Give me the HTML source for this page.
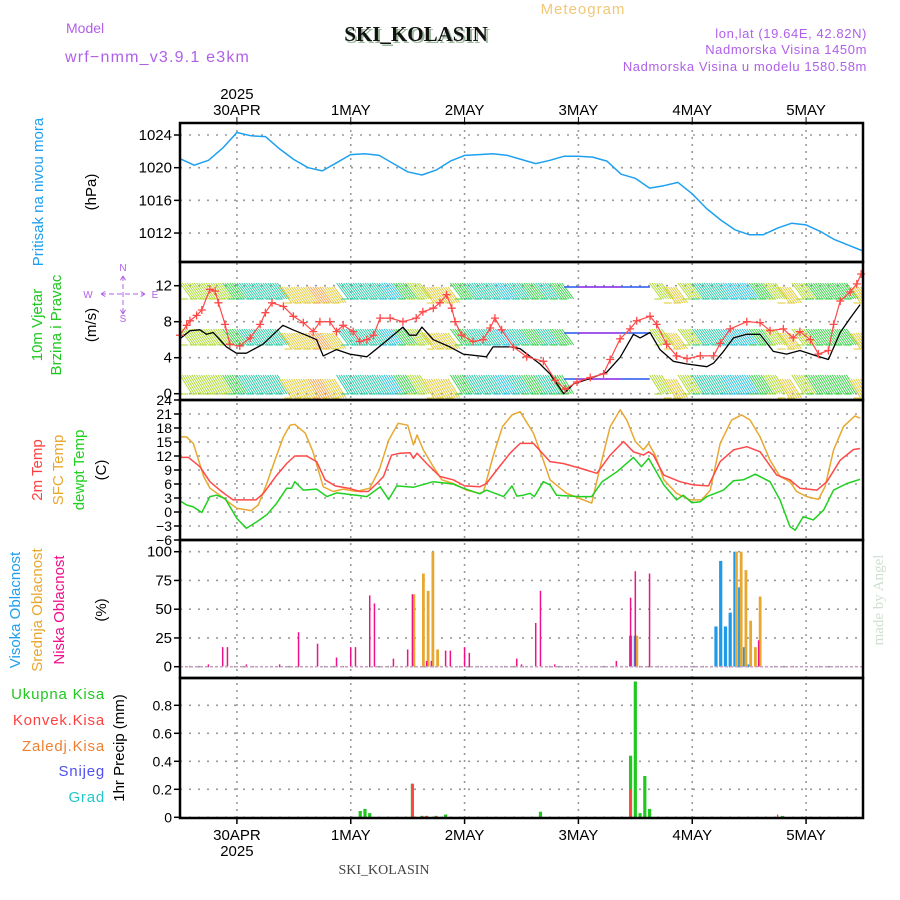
<!DOCTYPE html>
<html><head><meta charset="utf-8">
<style>
html,body{margin:0;padding:0;background:#fff;}
svg{display:block;font-family:"Liberation Sans",sans-serif;}
</style></head>
<body>
<svg id="chart" width="900" height="900" viewBox="0 0 900 900">
<text x="583" y="14" font-size="15" fill="#f0c878" text-anchor="middle" letter-spacing="1">Meteogram</text>
<text x="66" y="33" font-size="14" fill="#b060e8">Model</text>
<text x="65" y="62" font-size="16" fill="#b060e8" letter-spacing="1.2">wrf−nmm_v3.9.1 e3km</text>
<text x="418" y="43" font-size="21" font-weight="bold" font-family="Liberation Serif,serif" fill="#9cb89c" text-anchor="middle">SKI_KOLASIN</text>
<text x="416" y="41" font-size="21" font-weight="bold" font-family="Liberation Serif,serif" fill="#111" text-anchor="middle">SKI_KOLASIN</text>
<text x="867" y="38" font-size="13" fill="#b060e8" text-anchor="end" letter-spacing="0.6">lon,lat (19.64E, 42.82N)</text>
<text x="867" y="54" font-size="13" fill="#b060e8" text-anchor="end" letter-spacing="0.6">Nadmorska Visina 1450m</text>
<text x="867" y="71" font-size="13" fill="#b060e8" text-anchor="end" letter-spacing="0.6">Nadmorska Visina u modelu 1580.58m</text>
<text x="883" y="600" font-size="15" font-family="Liberation Serif,serif" fill="#d0e0d0" text-anchor="middle" transform="rotate(-90 883 600)">made by Angel</text>
<text x="384" y="874" font-size="14" font-family="Liberation Serif,serif" fill="#444" text-anchor="middle">SKI_KOLASIN</text>

<text transform="translate(43,192) rotate(-90)" font-size="15" fill="#20a0f0" text-anchor="middle">Pritisak na nivou mora</text>
<text transform="translate(96,192) rotate(-90)" font-size="15" fill="#000" text-anchor="middle">(hPa)</text>
<text transform="translate(42,325) rotate(-90)" font-size="15" fill="#20c820" text-anchor="middle">10m Vjetar</text>
<text transform="translate(61,325) rotate(-90)" font-size="15" fill="#20c820" text-anchor="middle">Brzina i Pravac</text>
<text transform="translate(96,325) rotate(-90)" font-size="15" fill="#000" text-anchor="middle">(m/s)</text>
<g fill="#b060e8" stroke="none" font-size="10" text-anchor="middle">
<text x="123" y="271">N</text><text x="123" y="322">S</text>
<text x="88" y="298">W</text><text x="155" y="298">E</text>
<path d="M101 294H145M123 276V314M101 294l5-3M101 294l5 3M145 294l-5-3M145 294l-5 3M123 276l-3 5M123 276l3 5M123 314l-3-5M123 314l3-5" stroke="#b060e8" stroke-width="1" stroke-dasharray="5 3" fill="none"/>
</g>
<text transform="translate(42,470) rotate(-90)" font-size="15" fill="#ff4040" text-anchor="middle">2m Temp</text>
<text transform="translate(63,470) rotate(-90)" font-size="15" fill="#e8a830" text-anchor="middle">SFC Temp</text>
<text transform="translate(84,470) rotate(-90)" font-size="15" fill="#20d020" text-anchor="middle">dewpt Temp</text>
<text transform="translate(106,470) rotate(-90)" font-size="15" fill="#000" text-anchor="middle">(C)</text>
<text transform="translate(20,610) rotate(-90)" font-size="15" fill="#20a0f0" text-anchor="middle">Visoka Oblacnost</text>
<text transform="translate(42,610) rotate(-90)" font-size="15" fill="#e8a830" text-anchor="middle">Srednja Oblacnost</text>
<text transform="translate(64,610) rotate(-90)" font-size="15" fill="#f0108a" text-anchor="middle">Niska Oblacnost</text>
<text transform="translate(106,610) rotate(-90)" font-size="15" fill="#000" text-anchor="middle">(%)</text>
<text x="105" y="699" font-size="15" fill="#20c820" text-anchor="end" letter-spacing="0.8">Ukupna Kisa</text>
<text x="105" y="725" font-size="15" fill="#ff4040" text-anchor="end" letter-spacing="0.8">Konvek.Kisa</text>
<text x="105" y="751" font-size="15" fill="#f08030" text-anchor="end" letter-spacing="0.8">Zaledj.Kisa</text>
<text x="105" y="776" font-size="15" fill="#5050f0" text-anchor="end" letter-spacing="0.8">Snijeg</text>
<text x="105" y="802" font-size="15" fill="#20c8c8" text-anchor="end" letter-spacing="0.8">Grad</text>
<text transform="translate(124,748) rotate(-90)" font-size="15" fill="#000" text-anchor="middle">1hr Precip (mm)</text>

<g id="grid"></g>
<g id="marks"></g>
<g id="frames"></g>
<g id="ticks"></g>
</svg>
<script>
const dayLabels = ["30APR","1MAY","2MAY","3MAY","4MAY","5MAY"];
const dayHours = [12,36,60,84,108,132];
const presTicks = [1024,1020,1016,1012];
const windTicks = [12,8,4,0];
const tempTicks = [24,21,18,15,12,9,6,3,0,-3,-6];
const cloudTicks = [100,75,50,25,0];
const precipTicks = [0.8,0.6,0.4,0.2,0];

const presHours = [0,3,6,9,12,15,18,21,24,27,30,33,36,39,42,45,48,51,54,57,60,63,66,69,72,75,78,81,84,87,90,93,96,99,102,105,108,111,114,117,120,123,126,129,132,135,138,141,144];
const presVals = [1021.1,1020.3,1020.9,1022.4,1024.3,1023.9,1023.8,1022.3,1021.0,1020.0,1019.6,1020.6,1021.6,1021.7,1021.5,1020.5,1019.5,1019.1,1019.7,1020.8,1021.5,1021.6,1021.7,1021.5,1021.0,1020.5,1020.9,1021.4,1021.4,1021.3,1020.8,1019.2,1018.7,1017.5,1017.8,1018.2,1016.8,1015.0,1013.6,1012.4,1011.8,1011.8,1012.6,1013.2,1013.0,1012.2,1011.2,1010.5,1009.8];

const sfcHours = [0,1.4,2.8,5,6.3,8.4,10.5,12,15,16.5,18.3,20,21.8,23.2,24.2,26.4,28,30.2,32.3,34.4,37.2,40,42,44,46,48,49.2,50,51.3,53.4,55.2,57.6,60.4,63.2,64,66,68,70,71.7,74.5,76.6,78,81.5,84.3,86.8,88.6,90.7,92.8,94.2,96,97.7,98.8,100.2,102,104.7,107.5,110,111.8,113.9,116.3,118.4,120.2,122.3,124.4,126.5,128.6,130,132.1,134.6,136,137.8,139.9,142.3,143.4];
const sfcVals = [16.1,16.1,14.7,7.6,5.1,3.6,1.9,0.8,0.3,1.5,6.1,11.1,16.1,18.6,18.8,16.9,13,5.4,4.4,4.9,4.4,5.1,9,15.4,19,18.6,14.4,16.5,13.3,9.7,6.9,6.1,4.7,4,4.4,11.9,18.3,20.8,21.5,16.9,11.1,6.9,4,2.9,1.9,9.7,18.3,21.9,19.7,15.1,13.3,14.7,12.2,6.9,4,2.6,2.6,4.7,14.7,19.7,20.8,19.7,16.1,11.1,7.6,6.5,4.4,3.3,2.7,5.4,13.3,18.3,20.6,20.1];

const t2Hours = [0,1.8,4.2,6.3,8.4,9.8,11.2,16,17.6,20.4,22.5,24.2,26.7,28.8,30.6,32.7,35.5,38,39.7,41.5,42.9,44.6,46.4,48.5,49.2,50,52,54.8,57.6,60,63.2,64.6,66.8,69.6,71.7,74.5,78,80.8,84.3,87.9,90.7,93.5,95.6,97.7,98.8,99.8,102,105.4,108.2,111.4,113.9,116.7,119.5,122.3,125.8,128.6,130.7,134.3,136.4,139.2,142,143.4];
const t2Vals = [11.7,11.7,9.7,6.5,4.7,3.6,2.6,2.6,4,7.9,10.4,12,12,10.8,6.9,5.6,5.1,4.4,4.4,6.1,7.6,12.2,12.6,12.7,11.5,12.6,10.4,7.6,6.9,5.6,5.4,6.1,9,12.6,14.7,14.7,10.8,10.4,9.4,8.3,12.2,15.1,12.9,12.2,12.9,12.2,7.9,6.5,5.8,5.6,10.8,13.3,14,12.9,7.9,6.9,5.1,4.7,6.5,11.1,13.4,13.6];

const tdHours = [0,1.4,2.8,4.6,6.3,7.7,9.5,12,14,16.2,18.3,20.4,22.5,23.5,24.2,26,28.8,31,33,37.2,39.4,42.2,44,45.7,49.2,53.4,57.6,59.7,63.2,64.6,68.2,70,71,72.4,73.8,74.7,76.6,78,79.4,84.3,86.8,89,92.1,95.6,97.3,98.8,102,104.7,106.1,107.9,109.7,111.1,114.6,116.7,118.8,121.3,124.4,126.5,128.6,129.7,131.4,133.5,135.7,137.8,140.6,143.4];
const tdVals = [2.4,1.5,1.1,-0.1,3.3,3.6,2.9,-1.4,-3.5,-2.1,-0.6,1.9,5.1,5.1,6.5,4.7,4.9,3.3,4.1,3.6,3.3,5.4,2.7,5.6,5.3,6.5,6,5.1,3.9,4.7,3.3,5.6,3.4,3.6,4,3.3,6.5,5.8,3.6,3.3,3.3,6.5,8.6,11.7,9.7,11.5,5.8,2.6,3.6,2,2.2,3.3,4.7,6.7,6.9,8.1,6.5,2.6,-3.1,-3.9,-1,-1.7,0.4,4.7,6.1,7];

const spdHours = [0,2.1,4.2,5.6,7,9.8,11.9,14,17.5,21.7,23.8,26.6,28.8,30.2,33,35.8,39.4,42.9,47,48.4,49.8,51,53.4,56.9,59.7,64.6,66,69.6,71.7,75.9,78,80.9,83,86.5,90,92.8,95.6,97,99.1,101.2,104,106.9,111.1,112.5,114.6,116.7,119.5,122.3,125.1,127.9,130.7,133.6,136.7,139.2,141.3,143.4];
const spdVals = [6.1,7.0,7.1,6.6,6.8,5.2,4.5,4.5,5.5,7.6,7.1,6.5,6.0,4.2,4.9,4.4,4.1,5.6,7.4,6.5,6.5,7.4,6.0,5.2,4.4,4.1,5.2,5.2,5.0,3.3,2.2,0,1.1,1.7,2.4,4.05,6.6,6.2,6.8,4.9,3.6,3.3,3.0,3.4,4.7,6.2,6.6,6.6,4.7,4.4,4.8,4.3,3.8,6.8,8.4,9.9];

const gustHours = [0,1.4,2.1,3.5,4.6,6.3,7.4,8.1,9.5,10.5,12.6,14.8,16.9,18,19.4,21.8,23.9,26,28.1,29.5,31.6,33,34.4,36.5,37.9,39.4,40.8,42.2,44.3,47,49.8,51.2,53.4,54.8,56.2,57.3,58,59.4,61.8,63.9,65.4,66.4,67.8,70.3,73.1,76.6,79.1,81.2,83.7,86.5,89.3,90.7,92.8,94.9,96.3,99.1,100.5,102.6,104.7,106.9,109.7,112.5,113.9,116,119.5,122.3,124.4,127.2,129.3,130.7,132.9,134.6,136.7,137.8,139.2,141.3,142.7,143.6];
const gustVals = [6.5,7.6,8.1,8.7,9.3,11.6,11.4,10.1,7.7,5.5,5.3,6.2,7.7,9.0,10.1,9.7,8.6,7.9,6.9,8.0,8.0,6.9,7.6,6.9,5.8,6.0,6.5,8.4,8.4,8.0,8.4,9.1,9.5,10.1,11.0,9.5,8.0,6.5,5.8,6.0,7.3,8.4,7.1,5.2,4.1,3.6,1.5,0.5,1.3,1.8,2.2,3.8,6.1,7.2,8.1,8.6,7.7,5.5,4.2,3.9,4.2,4.2,5.6,7.2,8.0,7.9,7.0,7.2,6.2,6.9,6.0,4.4,4.8,7.7,10.3,11.3,12.2,13.3];

const windClass = [5,5,5,4,3,3,3,6,6,7,6,3,3,3,2,4,5,6,6,4,3,3,2,3,4,3,4,1,0,0,0,1,1,5,6,5,3,3,2,2,4,5,6,5,4,4,4,6,7];

const lowHours = [6,9,10,14,21,25,29,33,36,37,40,41,45,48,49,52,53,56,57,60,61,71,72,75,76,79,92,95,96,99,122];
const lowVals = [2,17,17,2,2,30,20,8,17,17,62,55,7,15,63,5,5,14,14,17,12,7,2,38,66,2,5,60,83,81,23];
const midHours = [49,51,52,53,54,96,117,118,119,120,121,122];
const midVals = [63,81,66,100,15,27,100,100,84,40,17,61];
const highHours = [95,96,113,114,115,116,117,118,119,120];
const highVals = [27,27,35,92,35,47,100,69,17,2];

const totHours = [38,39,40,49,51,52,54,56,76,95,96,97,98,99,127];
const totVals = [0.045,0.06,0.03,0.24,0.01,0.01,0.01,0.02,0.04,0.44,0.97,0.03,0.295,0.06,0.01];
const convHours = [49,51,52,54,95,126];
const convVals = [0.24,0.01,0.01,0.01,0.2,0.02];

const X0 = 180, X1 = 863, PXH = 4.743;
const xs = h => X0 + h * PXH;
const yP = v => 135 + (1024 - v) * 8.17;
const yW = v => 393.7 - v * 9;
const yT = t => 400 + (24 - t) * 4.667;
const yC = p => 666.7 - p * 1.15;
const yR = m => 817.3 - m * 140;
const panels = [[123,262],[262,400],[400,540],[540,678],[678,818]];

const NS = "http://www.w3.org/2000/svg";
function mk(tag, attrs, parent) {
  const e = document.createElementNS(NS, tag);
  for (const k in attrs) e.setAttribute(k, attrs[k]);
  parent.appendChild(e);
  return e;
}
const grid = document.getElementById('grid');
const marks = document.getElementById('marks');
const frames = document.getElementById('frames');
const ticks = document.getElementById('ticks');

const gStyle = {stroke:'#9a9a9a','stroke-width':1.6,'stroke-dasharray':'2 7'};
function hgrid(vals, f, name){
  vals.forEach(v=>{
    const y=f(v);
    const l=mk('line',Object.assign({x1:X0,x2:X1,y1:y,y2:y},gStyle),grid);
    
    
  });
}
hgrid(presTicks,yP,'pressure');hgrid(windTicks,yW,'wind');hgrid(tempTicks,yT,'temp');hgrid(cloudTicks,yC,'cloud');hgrid(precipTicks,yR,'precip');
dayHours.forEach(h=>{
  const l=mk('line',Object.assign({x1:xs(h),x2:xs(h),y1:123,y2:818},gStyle,{'stroke-dasharray':'2 5'}),grid);
  
  
});

function poly(hs, vs, fy, color, name, w){
  const pts = hs.map((h,i)=>xs(h).toFixed(1)+','+fy(vs[i]).toFixed(1)).join(' ');
  const p = mk('polyline',{points:pts,fill:'none',stroke:color,'stroke-width':w||1.5,'stroke-linejoin':'round'},marks);
  
  
  return p;
}

poly(presHours,presVals,yP,'#1ea0f0','pressure-line');

const palette=['#8a30e8','#3060f0','#20c0d8','#20c8a0','#30d040','#a8d828','#e0c830','#f0a040'];
const rows=[[283,299],[329,345],[375,394]];
const wb=mk('g',{},marks);


const cp=mk('clipPath',{id:'wclip'},marks);
mk('rect',{x:X0,y:262,width:X1-X0,height:138},cp);
wb.setAttribute('clip-path','url(#wclip)');
for(let k=0;k<144*2;k++){
  const h=k/2;
  const c=windClass[Math.min(48,Math.floor(h/3))];
  const col=palette[c];
  rows.forEach(r=>{
    const x=xs(h);
    if(c<=1){
      if(k%2===0){mk('line',{x1:x,y1:r[0]+4,x2:x+5,y2:r[0]+4,stroke:col,'stroke-width':1.6},wb);}
    } else {
      const dy = (c>=6)?4:0;
      mk('line',{x1:x,y1:r[0]+dy,x2:x+12,y2:r[1]+dy,stroke:col,'stroke-width':0.9},wb);
      if(k%4===0){mk('line',{x1:x,y1:r[1]+dy,x2:x+8,y2:r[1]+dy,stroke:col,'stroke-width':1},wb);}
    }
  });
}
poly(spdHours,spdVals,yW,'#000','wind-speed-line',1.3);
poly(gustHours,gustVals,yW,'#ff4848','wind-gust-line',1.2);
gustHours.forEach((h,i)=>{
  const x=xs(h),y=yW(gustVals[i]);
  const g=mk('path',{d:`M${x-4} ${y}H${x+4}M${x} ${y-4}V${y+4}`,stroke:'#ff4848','stroke-width':1.3},marks);
  
  
});

poly(sfcHours,sfcVals,yT,'#e8a830','sfc-temp-line');
poly(t2Hours,t2Vals,yT,'#ff4848','2m-temp-line');
poly(tdHours,tdVals,yT,'#20d020','dewpt-line');

function bars(hs, vs, fy, color, w, off, name){
  hs.forEach((h,i)=>{
    const x=xs(h)+off, y=fy(vs[i]), y0=fy(0);
    const r=mk('rect',{x:x-w/2,y:Math.min(y,y0),width:w,height:Math.abs(y0-y),fill:color},marks);
    
    
  });
}
bars(highHours,highVals,yC,'#1e9ae8',3.2,0,'high-cloud-bar');
bars(midHours,midVals,yC,'#e8a830',2.8,1.5,'mid-cloud-bar');
bars(lowHours,lowVals,yC,'#f0108a',1.5,0,'low-cloud-bar');
const bl=mk('line',{x1:X0,x2:X1,y1:yC(0),y2:yC(0),stroke:'#c8a0c0','stroke-width':1.5,'stroke-dasharray':'3 2'},marks);



bars(totHours,totVals,yR,'#20c820',3.2,0,'total-precip-bar');
bars(convHours,convVals,yR,'#ff4040',1.3,0,'convective-precip-bar');

panels.forEach((p,i)=>{
  const r=mk('rect',{x:X0,y:p[0],width:X1-X0,height:p[1]-p[0],fill:'none',stroke:'#000','stroke-width':2.5},frames);
  
  
});

function ylabels(vals,f,name,fs,fmt){
  vals.forEach(v=>{
    const y=f(v);
    mk('line',{x1:X0-6,x2:X0,y1:y,y2:y,stroke:'#000','stroke-width':1.5},ticks);
    const t=mk('text',{x:172,y:y+5,'font-size':fs,'text-anchor':'end',fill:'#000'},ticks);
    t.textContent=fmt?fmt(v):String(v);
    
    
  });
}
ylabels(presTicks,yP,'pressure',15);
ylabels(windTicks,yW,'wind',15);
ylabels(tempTicks,yT,'temp',14,v=>v<0?'−'+(-v):String(v));
ylabels(cloudTicks,yC,'cloud',15);
ylabels(precipTicks,yR,'precip',14,v=>v===0?'0':String(v));

dayHours.forEach((h,i)=>{
  const x=xs(h);
  const t=mk('text',{x:x,y:115,'font-size':15,'text-anchor':'middle',fill:'#000'},ticks);
  t.textContent=dayLabels[i];
  
  
  const b=mk('text',{x:x,y:840,'font-size':15,'text-anchor':'middle',fill:'#000'},ticks);
  b.textContent=dayLabels[i];
  
  
  mk('line',{x1:x,x2:x,y1:818,y2:824,stroke:'#000','stroke-width':1.5},ticks);
  mk('line',{x1:x,x2:x,y1:117,y2:123,stroke:'#000','stroke-width':1},ticks);
});
const y1=mk('text',{x:xs(12),y:99,'font-size':15,'text-anchor':'middle',fill:'#000'},ticks);
y1.textContent='2025';


const y2=mk('text',{x:xs(12),y:856,'font-size':15,'text-anchor':'middle',fill:'#000'},ticks);
y2.textContent='2025';


</script>
</body></html>
